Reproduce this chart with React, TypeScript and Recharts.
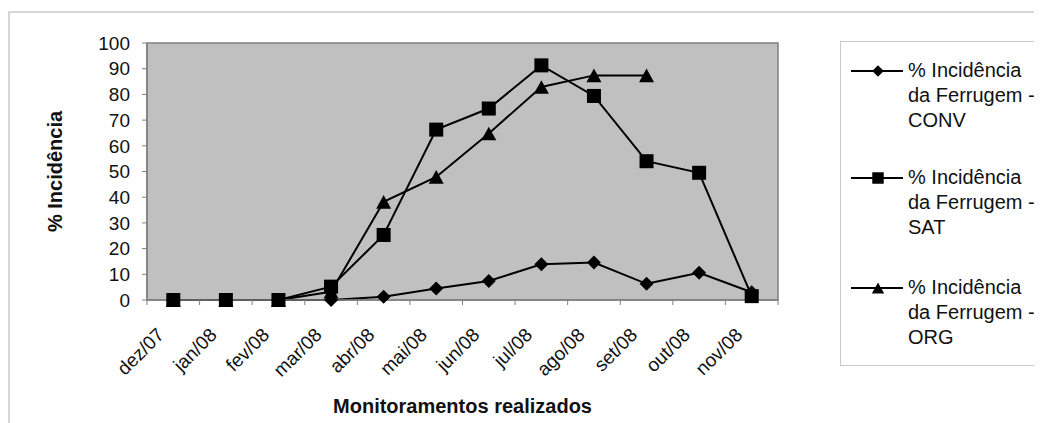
import React from 'react';
import { LineChart, Line, XAxis, YAxis, ReferenceArea } from 'recharts';

const MONTHS = ['dez/07', 'jan/08', 'fev/08', 'mar/08', 'abr/08', 'mai/08', 'jun/08', 'jul/08', 'ago/08', 'set/08', 'out/08', 'nov/08'];
const CONV = [0, 0, 0, 0, 1.3, 4.5, 7.4, 13.9, 14.6, 6.3, 10.6, 3.0];
const SAT = [0, 0, 0, 5.2, 25.3, 66.3, 74.5, 91.3, 79.4, 54.0, 49.5, 1.5];
const ORG: (number | null)[] = [0, 0, 0, 3.2, 38.2, 47.9, 64.8, 82.9, 87.4, 87.4, null, null];
const Y_TICKS = [0, 10, 20, 30, 40, 50, 60, 70, 80, 90, 100];
const X_BOUNDS = [0, 1, 2, 3, 4, 5, 6, 7, 8, 9, 10, 11, 12];

const LEGEND_ITEMS = [
  { key: 'conv', lines: ['% Incidência', 'da Ferrugem -', 'CONV'] },
  { key: 'sat', lines: ['% Incidência', 'da Ferrugem -', 'SAT'] },
  { key: 'org', lines: ['% Incidência', 'da Ferrugem -', 'ORG'] },
];

const data = MONTHS.map((m, i) => ({ x: i + 0.5, month: m, conv: CONV[i], sat: SAT[i], org: ORG[i] }));

const FONT = '"Liberation Sans", Arial, sans-serif';
const W = 1034;
const H = 415;
const M = { top: 35, right: 264, bottom: 0, left: 0 };
const Y_W = 139;
const X_H = 123;
const PLOT_W = W - M.left - M.right - Y_W;
const BAND = PLOT_W / MONTHS.length;

function Marker({ kind, cx, cy, s = 1 }: { kind: string; cx: number; cy: number; s?: number }) {
  if (kind === 'conv') {
    const r = 7 * s;
    return <polygon points={`${cx},${cy - r} ${cx + r},${cy} ${cx},${cy + r} ${cx - r},${cy}`} fill="#000" />;
  }
  if (kind === 'sat') {
    const h = 7 * s;
    return <rect x={cx - h} y={cy - h} width={2 * h} height={2 * h} fill="#000" />;
  }
  const w = 7.5 * s;
  const hh = 6.8 * s;
  return <polygon points={`${cx},${cy - hh} ${cx + w},${cy + hh} ${cx - w},${cy + hh}`} fill="#000" />;
}

const makeDot = (kind: string) => (props: any) => {
  const { cx, cy, index, value } = props;
  if (cx == null || cy == null || value == null) return <g key={`${kind}-${index}`} />;
  return (
    <g key={`${kind}-${index}`}>
      <Marker kind={kind} cx={cx} cy={cy} />
    </g>
  );
};

const XTick = (props: any) => {
  const { x, y, payload } = props;
  const v = payload.value as number;
  const tx = x + BAND / 2 - 8;
  const ty = y + 36;
  return (
    <g>
      <line x1={x} y1={y} x2={x} y2={y + 5} stroke="#808080" strokeWidth={1} />
      {v < MONTHS.length && (
        <text x={tx} y={ty} textAnchor="end" transform={`rotate(-45, ${tx}, ${ty})`} fontSize={19} fill="#111" fontFamily={FONT}>
          {MONTHS[v]}
        </text>
      )}
    </g>
  );
};

function LegendBox() {
  const rows = [29, 136, 246];
  return (
    <div
      style={{
        position: 'absolute',
        left: 832,
        top: 33,
        width: W - 832,
        height: 325,
        borderTop: '1px solid #c8c8c8',
        borderLeft: '1px solid #c8c8c8',
        borderBottom: '1px solid #c8c8c8',
        boxSizing: 'border-box',
        background: '#fff',
        fontFamily: FONT,
        fontSize: 20,
        color: '#111',
      }}
    >
      {LEGEND_ITEMS.map((it, k) => (
        <div key={it.key} style={{ position: 'absolute', left: 0, top: rows[k] - 13, width: '100%' }}>
          <svg width={64} height={26} style={{ position: 'absolute', left: 0, top: 0 }}>
            <line x1={10} y1={13} x2={62} y2={13} stroke="#000" strokeWidth={2} />
            <Marker kind={it.key} cx={37} cy={13} s={0.82} />
          </svg>
          <div style={{ position: 'absolute', left: 67, top: 0, lineHeight: '25px', whiteSpace: 'nowrap' }}>
            {it.lines.map((l) => (
              <div key={l}>{l}</div>
            ))}
          </div>
        </div>
      ))}
    </div>
  );
}

export default function App() {
  return (
    <div style={{ position: 'relative', width: W, height: H, background: '#fff', fontFamily: FONT }}>
      <div
        style={{
          position: 'absolute',
          left: 0,
          top: 3,
          right: 0,
          bottom: 0,
          borderTop: '2px solid #d6d6d6',
          borderLeft: '2px solid #d6d6d6',
        }}
      />
      <LineChart width={W} height={H} data={data} margin={M}>
        <ReferenceArea x1={0} x2={12} y1={0} y2={100} fill="#c0c0c0" fillOpacity={1} stroke="#808080" strokeWidth={1.5} ifOverflow="visible" />
        <XAxis
          dataKey="x"
          type="number"
          domain={[0, 12]}
          ticks={X_BOUNDS}
          interval={0}
          height={X_H}
          tickLine={false}
          tickSize={0}
          tickMargin={0}
          axisLine={{ stroke: '#808080', strokeWidth: 1.5 }}
          tick={<XTick />}
          label={{ value: 'Monitoramentos realizados', position: 'insideBottom', offset: 10, style: { fontSize: 20, fontWeight: 'bold', fill: '#111', fontFamily: FONT } }}
        />
        <YAxis
          type="number"
          domain={[0, 100]}
          ticks={Y_TICKS}
          interval={0}
          width={Y_W}
          tickSize={5}
          tickMargin={12}
          tickLine={{ stroke: '#808080' }}
          axisLine={{ stroke: '#808080', strokeWidth: 1.5 }}
          tick={{ fontSize: 19, fill: '#111', fontFamily: FONT }}
          label={{ value: '% Incidência', angle: -90, position: 'insideLeft', offset: 47, style: { textAnchor: 'middle', fontSize: 20, fontWeight: 'bold', fill: '#111', fontFamily: FONT } }}
        />
        <Line type="linear" dataKey="conv" stroke="#000" strokeWidth={2} dot={makeDot('conv')} activeDot={false} isAnimationActive={false} />
        <Line type="linear" dataKey="org" stroke="#000" strokeWidth={2} dot={makeDot('org')} activeDot={false} isAnimationActive={false} connectNulls={false} />
        <Line type="linear" dataKey="sat" stroke="#000" strokeWidth={2} dot={makeDot('sat')} activeDot={false} isAnimationActive={false} />
      </LineChart>
      <LegendBox />
    </div>
  );
}
